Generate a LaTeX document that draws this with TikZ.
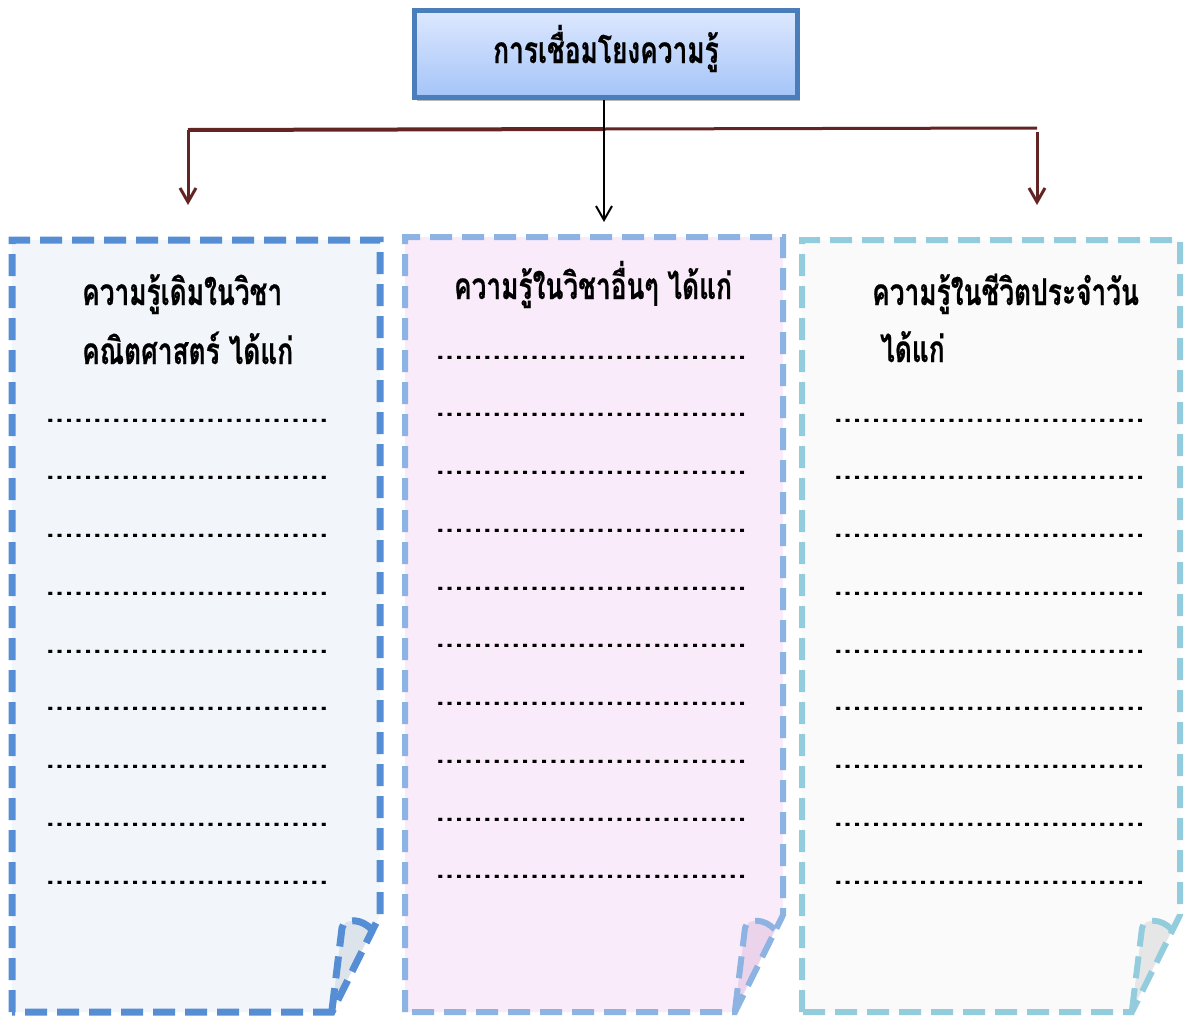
\documentclass[tikz,border=0pt]{standalone}
\usepackage{fontspec}
\newfontfamily\thai[Script=Thai]{Loma}
\newfontfamily\thaittl[Script=Thai,FakeStretch=0.71,BoldFeatures={FakeBold=0.5}]{Loma}
\usetikzlibrary{arrows.meta,shadows}
\definecolor{lblue}{HTML}{558ED5}
\definecolor{mblue}{HTML}{8DB3E2}
\definecolor{cblue}{HTML}{93CDDD}
\definecolor{lfill}{HTML}{F2F6FA}
\definecolor{mfill}{HTML}{FAEBFA}
\definecolor{cfill}{HTML}{FAFAFA}
\definecolor{lfold}{HTML}{DDE3EA}
\definecolor{mfold}{HTML}{EBD3EB}
\definecolor{cfold}{HTML}{E6E6E6}
\definecolor{dred}{HTML}{632523}
\definecolor{boxborder}{HTML}{4A7EBB}
\definecolor{gtop}{HTML}{DDE8FE}
\definecolor{gbot}{HTML}{A4C4F8}
\newcommand\mydotrow[2]{\hbox to #1{\leaders\hbox to #2{\hss.\hss}\hfill}}
\newcommand\drawpanel[8]{%
  % #1 x1, #2 y1, #3 x2, #4 y2, #5 border, #6 fill, #7 fold fill, #8 width
  \path[fill=#6] (#1,#2) -- (#3,#2) -- (#3,#4-97) -- (#3-48,#4) -- (#1,#4) -- cycle;
  \path[fill=#7] (#3-38,#4-84) .. controls (#3-36,#4-94) and (#3-18,#4-94) .. (#3-8,#4-82)
     -- (#3-48,#4-2) -- cycle;
  \draw[paneledge=#8, draw=#5] (#1,#4) -- (#1,#2) -- (#3,#2) -- (#3,#4-97) -- (#3-48,#4) -- cycle;
  \draw[paneledge=#8, draw=#5] (#3-48,#4-2) -- (#3-38,#4-84) .. controls (#3-36,#4-94) and (#3-18,#4-94) .. (#3-8,#4-82);
}
\begin{document}
\begin{tikzpicture}[x=1pt,y=-1pt,
  ttl/.style={font=\thaittl\bfseries\fontsize{37}{42}\selectfont, inner sep=0pt},
  dotsrow/.style={font=\thai\bfseries\fontsize{30}{34}\selectfont, inner sep=0pt, anchor=base west},
  paneledge/.style={line width=#1, dash pattern=on 22pt off 10pt},
  paneledge/.default=6pt,
  redline/.style={dred, line width=3pt},
  redarrow/.style={dred, line width=3pt, -{Straight Barb[length=14pt,width=16pt]}},
]
\useasboundingbox (0,0) rectangle (1187,1018);
\fill[white] (0,0) rectangle (1187,1018);

% panels
\drawpanel{12}{240}{380}{1012}{lblue}{lfill}{lfold}{7pt}
\drawpanel{405}{237}{783}{1012}{mblue}{mfill}{mfold}{6pt}
\drawpanel{802}{240}{1180}{1012}{cblue}{cfill}{cfold}{6pt}

% top box
\node[draw=boxborder, line width=5.5pt, top color=gtop, bottom color=gbot,
      minimum width=383pt, minimum height=87pt, inner sep=0pt,
      drop shadow={shadow xshift=2pt, shadow yshift=-3pt, fill=gray!55, opacity=1}]
  (top) at (606,54) {};
\node[ttl, anchor=base] (toptxt) at (606,63) {การเชื่อมโยงความรู้};

% connectors
\coordinate (jn) at (604,129);
\coordinate (lc) at (188,130);
\coordinate (la) at (188,205);
\coordinate (rc) at (1037,128);
\coordinate (rs) at (1037,132);
\coordinate (ra) at (1037,205);
\coordinate (ma) at (604,222);
\draw[redline, line width=4pt] (jn) -- (lc);
\draw[redline] (jn) -- (rc);
\draw[redarrow] (lc) -- (la);
\draw[redarrow] (rs) -- (ra);
\draw[black, line width=2pt, -{Straight Barb[length=14pt,width=16pt]}] (top.south -| ma) -- (ma);

% titles
\node[ttl, anchor=base west] (l1) at (82,305) {ความรู้เดิมในวิชา};
\node[ttl, anchor=base west] (l2) at (82,364) {คณิตศาสตร์ ได้แก่};
\node[ttl, anchor=base] (m1) at (593,299) {ความรู้ในวิชาอื่นๆ ได้แก่};
\node[ttl, anchor=base west] (r1) at (872,305) {ความรู้ในชีวิตประจำวัน};
\node[ttl, anchor=base west] (r2) at (880,362) {ได้แก่};

% dotted rows
\foreach \k in {0,...,8} {
  \node[dotsrow] (ld\k) at (45.3,{422+57.75*\k}) {\mydotrow{283pt}{9.43pt}};
  \node[dotsrow] (rd\k) at (833.3,{422+57.75*\k}) {\mydotrow{311.2pt}{9.43pt}};
}
\foreach \k in {0,...,9} {
  \node[dotsrow] (md\k) at (435.3,{359+57.75*\k}) {\mydotrow{311.2pt}{9.43pt}};
}
\end{tikzpicture}
\end{document}
